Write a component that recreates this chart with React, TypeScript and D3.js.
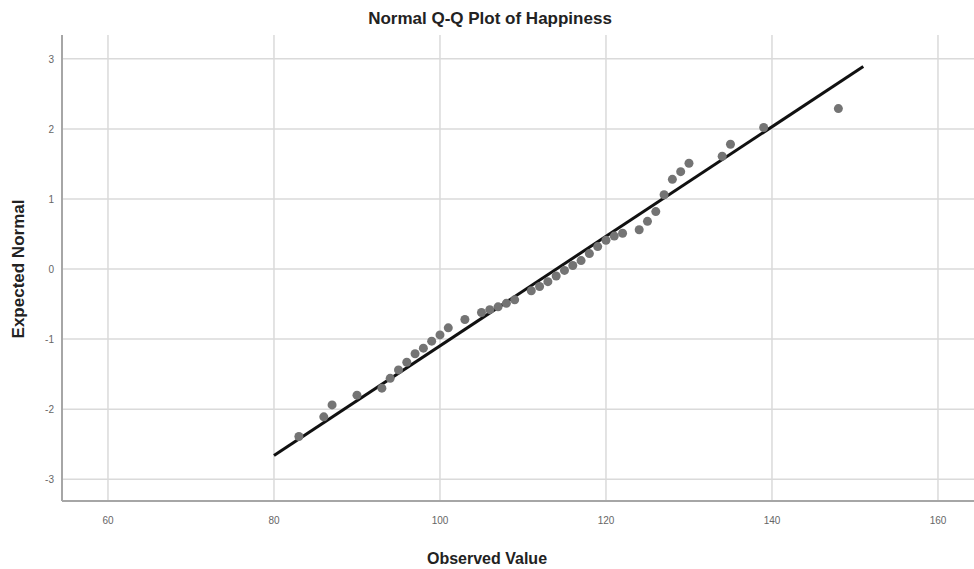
import React from "react";
import * as d3 from "d3";

const observed = [83, 86, 87, 90, 93, 94, 95, 96, 97, 98, 99, 100, 101, 103, 105, 106, 107, 108, 109, 111, 112, 113, 114, 115, 116, 117, 118, 119, 120, 121, 122, 124, 125, 126, 127, 128, 129, 130, 134, 135, 139, 148];
const expected = [-2.39, -2.11, -1.94, -1.80, -1.70, -1.56, -1.44, -1.33, -1.21, -1.13, -1.03, -0.94, -0.84, -0.72, -0.62, -0.58, -0.54, -0.49, -0.44, -0.31, -0.25, -0.18, -0.10, -0.02, 0.05, 0.12, 0.22, 0.32, 0.41, 0.47, 0.51, 0.56, 0.68, 0.82, 1.06, 1.28, 1.39, 1.51, 1.61, 1.78, 2.02, 2.29];
const lineObserved = [80, 151];
const lineExpected = [-2.66, 2.89];
const xTicks = [60, 80, 100, 120, 140, 160];
const yTicks = [-3, -2, -1, 0, 1, 2, 3];
const title = "Normal Q-Q Plot of Happiness";
const xTitle = "Observed Value";
const yTitle = "Expected Normal";

const W = 974;
const H = 569;
const M = { left: 62, right: 0, top: 35, bottom: 68 };

export default function App() {
  const x = d3.scaleLinear().domain([54.46, 164.34]).range([M.left, W - M.right]);
  const y = d3.scaleLinear().domain([-3.311, 3.34]).range([H - M.bottom, M.top]);
  const line = d3.line<number>().x((d) => x(lineObserved[d])).y((d) => y(lineExpected[d]));
  const font = "'Liberation Sans', Arial, sans-serif";
  return (
    <div style={{ position: "absolute", left: 0, top: 0 }}>
      <svg width={W} height={H} style={{ display: "block", background: "#fff" }}>
        <g>
          {xTicks.map((t) => (
            <line key={"gx" + t} x1={x(t)} x2={x(t)} y1={M.top} y2={H - M.bottom} stroke="#dadada" strokeWidth={1.5} />
          ))}
          {yTicks.map((t) => (
            <line key={"gy" + t} x1={M.left} x2={W - M.right} y1={y(t)} y2={y(t)} stroke="#dadada" strokeWidth={1.5} />
          ))}
        </g>
        <line x1={M.left} x2={M.left} y1={M.top} y2={H - M.bottom} stroke="#a6a6a6" strokeWidth={2} />
        <line x1={M.left} x2={W - M.right} y1={H - M.bottom} y2={H - M.bottom} stroke="#a6a6a6" strokeWidth={2} />
        {xTicks.map((t) => (
          <text key={"tx" + t} x={x(t)} y={H - M.bottom + 23} textAnchor="middle" fontFamily={font} fontSize={10} fill="#666">
            {t}
          </text>
        ))}
        {yTicks.map((t) => (
          <text key={"ty" + t} x={M.left - 8} y={y(t) + 4} textAnchor="end" fontFamily={font} fontSize={10} fill="#666">
            {t}
          </text>
        ))}
        <path d={line([0, 1]) || ""} stroke="#111" strokeWidth={3} fill="none" />
        {observed.map((v, i) => (
          <circle key={"p" + i} cx={x(v)} cy={y(expected[i])} r={4.5} fill="#747474" />
        ))}
        <text x={490} y={24} textAnchor="middle" fontFamily={font} fontSize={17} fontWeight="bold" fill="#222">
          {title}
        </text>
        <text x={487} y={564} textAnchor="middle" fontFamily={font} fontSize={16} fontWeight="bold" fill="#222">
          {xTitle}
        </text>
        <text transform={`translate(24,${y(0)}) rotate(-90)`} textAnchor="middle" fontFamily={font} fontSize={17} fontWeight="bold" fill="#222">
          {yTitle}
        </text>
      </svg>
    </div>
  );
}
